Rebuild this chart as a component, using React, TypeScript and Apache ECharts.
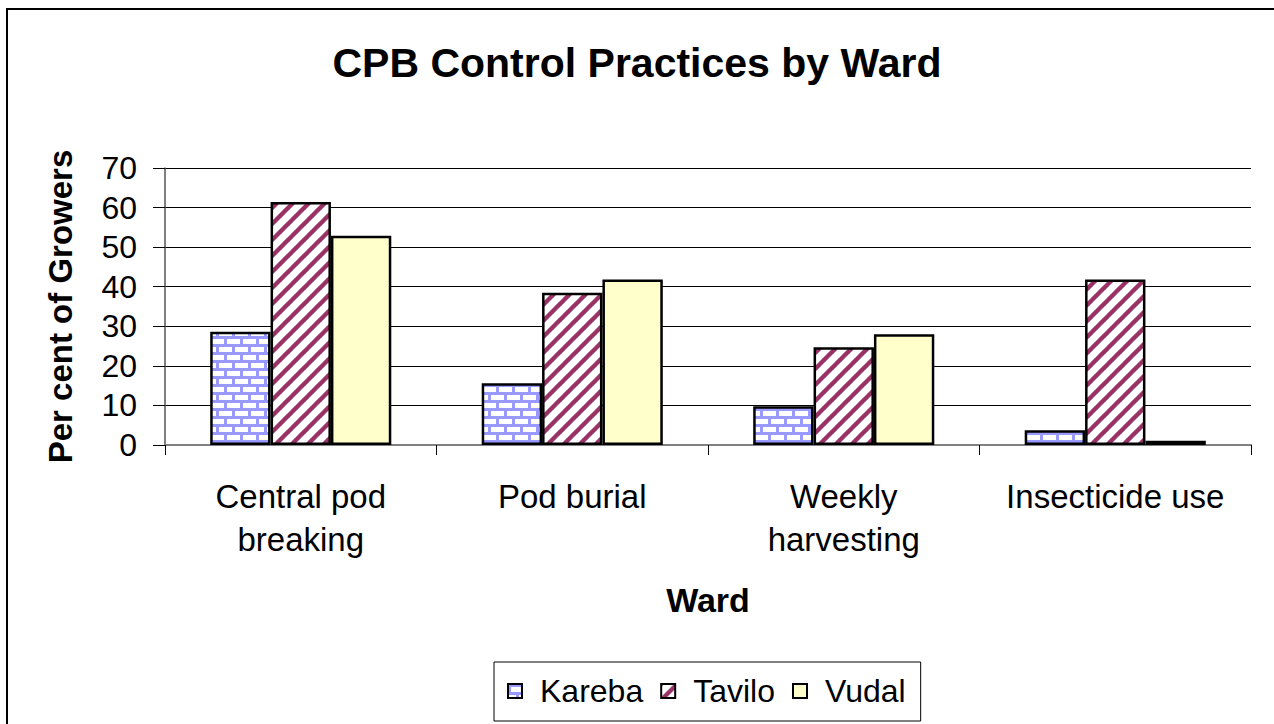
import React, { useEffect, useRef } from "react";
import * as echarts from "echarts";

const categories = ["Central pod\nbreaking", "Pod burial", "Weekly\nharvesting", "Insecticide use"];
const seriesNames = ["Kareba", "Tavilo", "Vudal"];
const kareba = [28.6, 15.6, 9.8, 3.7];
const tavilo = [61.4, 38.5, 24.7, 41.8];
const vudal = [52.9, 41.8, 28.0, 1.1];
const yTicks = { min: 0, max: 70, interval: 10 };

const FONT = "'Liberation Sans', Arial, Helvetica, sans-serif";

function makeBrick(): HTMLCanvasElement {
  const c = document.createElement("canvas");
  c.width = 16;
  c.height = 16;
  const g = c.getContext("2d")!;
  g.fillStyle = "#ffffff";
  g.fillRect(0, 0, 16, 16);
  g.fillStyle = "#9999ff";
  g.fillRect(0, 0, 16, 3);
  g.fillRect(0, 8, 16, 3);
  g.fillRect(0, 3, 3, 5);
  g.fillRect(8, 11, 3, 5);
  return c;
}

function makeStripe(): HTMLCanvasElement {
  const c = document.createElement("canvas");
  c.width = 16;
  c.height = 16;
  const g = c.getContext("2d")!;
  g.fillStyle = "#ffffff";
  g.fillRect(0, 0, 16, 16);
  g.strokeStyle = "#993366";
  g.lineWidth = 4.4;
  for (const k of [-16, 0, 16]) {
    g.beginPath();
    g.moveTo(k - 2, 18);
    g.lineTo(k + 18, -2);
    g.stroke();
  }
  return c;
}

export default function App() {
  const ref = useRef<HTMLDivElement>(null);
  useEffect(() => {
    if (!ref.current) return;
    const chart = echarts.init(ref.current, null, { renderer: "svg" });
    const brick = { image: makeBrick(), repeat: "repeat", imageWidth: 16, imageHeight: 16 } as any;
    const stripe = { image: makeStripe(), repeat: "repeat", imageWidth: 16, imageHeight: 16 } as any;
    const fills = [brick, stripe, "#ffffcc"];
    const values = [kareba, tavilo, vudal];
    chart.setOption({
      animation: false,
      backgroundColor: "#ffffff",
      title: {
        text: "CPB Control Practices by Ward",
        left: "center",
        top: 37,
        textStyle: { fontFamily: FONT, fontSize: 41, fontWeight: "bold", color: "#000", lineHeight: 41 },
      },
      graphic: [
        {
          type: "rect",
          shape: { x: 7, y: 9, width: 1320, height: 800 },
          style: { fill: "none", stroke: "#000", lineWidth: 2 },
          silent: true,
          z: -1,
        },
      ],
      legend: {
        data: seriesNames.map((n) => ({ name: n, icon: "rect" })),
        left: 494,
        top: 662,
        orient: "horizontal",
        itemWidth: 14,
        itemHeight: 14,
        itemGap: 17,
        padding: [13, 15, 14, 13],
        borderColor: "#000",
        borderWidth: 1,
        textStyle: { fontFamily: FONT, fontSize: 32, color: "#000", lineHeight: 32, padding: [0, 0, 0, 13] },
      },
      grid: { left: 165, right: 23, top: 168, bottom: 279, containLabel: false },
      xAxis: {
        type: "category",
        data: categories,
        name: "Ward",
        nameLocation: "middle",
        nameGap: 138,
        nameTextStyle: { fontFamily: FONT, fontSize: 34, fontWeight: "bold", color: "#000" },
        axisLine: { show: true, lineStyle: { color: "#808080", width: 2 } },
        axisTick: { show: true, alignWithLabel: false, length: 10, lineStyle: { color: "#000", width: 1 } },
        axisLabel: {
          interval: 0,
          margin: 30,
          fontFamily: FONT,
          fontSize: 33,
          lineHeight: 43,
          color: "#000",
        },
        splitLine: { show: false },
      },
      yAxis: {
        type: "value",
        min: yTicks.min,
        max: yTicks.max,
        interval: yTicks.interval,
        name: "Per cent of Growers",
        nameLocation: "middle",
        nameGap: 88,
        nameTextStyle: { fontFamily: FONT, fontSize: 33, fontWeight: "bold", color: "#000" },
        axisLine: { show: true, lineStyle: { color: "#555", width: 1.5 } },
        axisTick: { show: true, length: 12, lineStyle: { color: "#000", width: 1 } },
        axisLabel: { margin: 28, fontFamily: FONT, fontSize: 32, color: "#000" },
        splitLine: { show: true, lineStyle: { color: "#000", width: 1 } },
      },
      series: seriesNames.map((name, i) => ({
        name,
        type: "bar",
        data: values[i],
        barGap: "0%",
        barCategoryGap: "33.3%",
        itemStyle: { color: fills[i], borderColor: "#000", borderWidth: 2.5 },
        emphasis: { disabled: true },
      })),
    });
    return () => chart.dispose();
  }, []);
  return (
    <div
      ref={ref}
      style={{ position: "absolute", left: 0, top: 0, width: 1274, height: 724 }}
    />
  );
}
